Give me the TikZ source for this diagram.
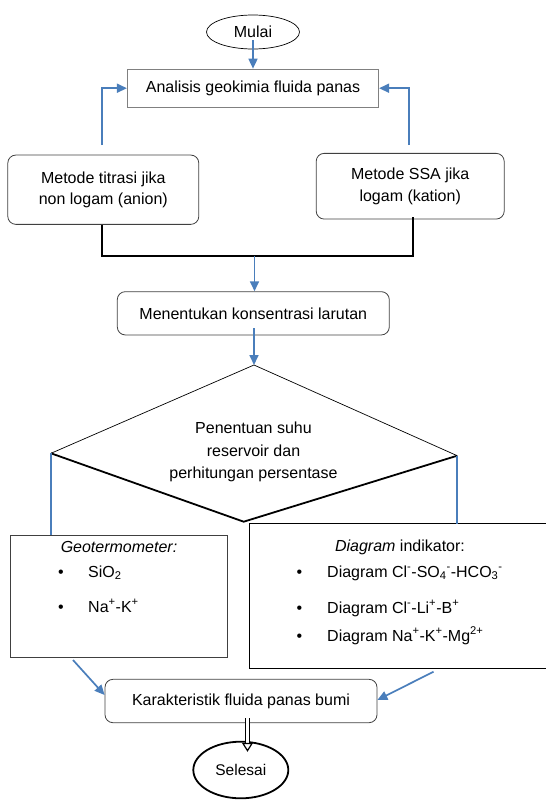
\documentclass[tikz,border=0pt]{standalone}
\usepackage{fontspec}
\setmainfont{Liberation Sans}
\usetikzlibrary{shapes.geometric,arrows.meta,calc}
\definecolor{flowblue}{RGB}{74,126,187}
\begin{document}
\begin{tikzpicture}[x=1pt,y=-1pt,
  every node/.style={font=\fontsize{16}{21.5}\selectfont, inner sep=0pt, text=black},
  conn/.style={draw=flowblue, line width=1.7pt},
  arr/.style={conn, -{Triangle[length=10pt,width=9pt]}},
  blackconn/.style={draw=black, line width=1.9pt},
  dblarrow/.style={draw=black, double=white, double distance=3pt, line width=1.2pt, -{Triangle[open, length=9pt, width=11pt]}},
  sharpbox/.style={draw=gray, line width=0.8pt, rectangle},
  roundbox/.style={draw=black!75, line width=0.8pt, rectangle, rounded corners=8pt, align=center},
  listbox/.style={draw=black!75, line width=1pt, rectangle},
  itemtext/.style={anchor=base west},
  bulletmark/.style={anchor=base}
]
\useasboundingbox (0,0) rectangle (546,801);

% start / boxes
\node[ellipse, draw, line width=0.7pt, minimum width=93, minimum height=34] (mulai) at (253,32) {Mulai};
\node[sharpbox, minimum width=251.4, minimum height=38.3] (analisis) at (253,88.2) {Analisis geokimia fluida panas};
\node[roundbox, minimum width=191, minimum height=69.3] (titrasi) at (103.3,189.7) {Metode titrasi jika\\non logam (anion)};
\node[roundbox, minimum width=188, minimum height=65.7] (ssa) at (410.2,186.2) {Metode SSA jika\\logam (kation)};
\node[roundbox, minimum width=272, minimum height=43.3] (menentukan) at (253.3,313.3) {Menentukan konsentrasi larutan};

% decision diamond
\coordinate (dT) at (254,365);
\coordinate (dL) at (51,453.3);
\coordinate (dR) at (457.2,455.7);
\coordinate (dB) at (243.7,521.7);
\draw[line width=0.7pt] (dL) -- (dT) -- (dR);
\draw[line width=1.8pt] (dL) -- (dB) -- (dR);
\node[align=center, font=\fontsize{16}{22.5}\selectfont] (penentuan) at (253.5,452) {Penentuan suhu\\reservoir dan\\perhitungan persentase};

% geothermometer box
\node[listbox, minimum width=217, minimum height=122.7] (geo) at (118.9,596.4) {};
\node[anchor=base, font=\fontsize{16}{21.5}\selectfont\itshape] (geohead) at (119,552) {Geotermometer:};
\node[bulletmark] (gb1) at (61,577) {•};
\node[itemtext] (g1) at (88,577) {SiO\textsubscript{2}};
\node[bulletmark] (gb2) at (61,612) {•};
\node[itemtext] (g2) at (88,612) {Na\textsuperscript{+}-K\textsuperscript{+}};

% indicator diagram box (open at the right edge)
\node[minimum width=296.3, minimum height=144] (diag) at (397.85,596) {};
\draw[draw=black, line width=1pt] (diag.north east) -- (diag.north west) -- (diag.south west) -- (diag.south east);
\node[anchor=base] (diaghead) at (400,551) {\textit{Diagram} indikator:};
\node[bulletmark] (db1) at (299.3,577) {•};
\node[itemtext] (d1) at (327,577) {Diagram Cl\textsuperscript{-}-SO\textsubscript{4}\textsuperscript{-}-HCO\textsubscript{3}\textsuperscript{-}};
\node[bulletmark] (db2) at (299.3,613) {•};
\node[itemtext] (d2) at (327,613) {Diagram Cl\textsuperscript{-}-Li\textsuperscript{+}-B\textsuperscript{+}};
\node[bulletmark] (db3) at (299.3,641) {•};
\node[itemtext] (d3) at (327,641) {Diagram Na\textsuperscript{+}-K\textsuperscript{+}-Mg\textsuperscript{2+}};

\node[roundbox, minimum width=272, minimum height=43.4] (kar) at (241,701) {Karakteristik fluida panas bumi};
\node[ellipse, draw, line width=1.8pt, minimum width=95, minimum height=56.6, font=\fontsize{15.5}{18}\selectfont] (selesai) at (240.8,770) {Selesai};

% connectors
\coordinate (fl) at (101.7,145);
\coordinate (fr) at (409.1,145);
\coordinate (jl) at (101.7,256);
\coordinate (jr) at (413.3,256);
\coordinate (jm) at (254.5,256);
\coordinate (ga) at (73,660);
\coordinate (da) at (433.5,671.7);

\draw[arr] ($(mulai.center)+(0,8)$) -- (analisis.north);
\draw[arr] (fl) |- (analisis.west);
\draw[arr] (fr) |- (analisis.east);
\draw[blackconn] (titrasi.south -| jl) -- (jl) -- (jr) -- ($(ssa.south -| jr)+(0,-2)$);
\draw[arr] (jm) -- (jm |- menentukan.north);
\draw[arr] ($(menentukan.south)+(0.7,-7)$) -- (dT);
\draw[conn] (dL) -- (dL |- geo.north);
\draw[conn] (dR) -- (dR |- diag.north);
\draw[arr] (ga) -- ($(kar.west)+(0,-6)$);
\draw[arr] (da) -- ($(kar.east)+(0,-1)$);
\draw[dblarrow] ($(kar.south)+(6.5,-5)$) -- ($(selesai.north)+(6.7,11)$);
\end{tikzpicture}
\end{document}
